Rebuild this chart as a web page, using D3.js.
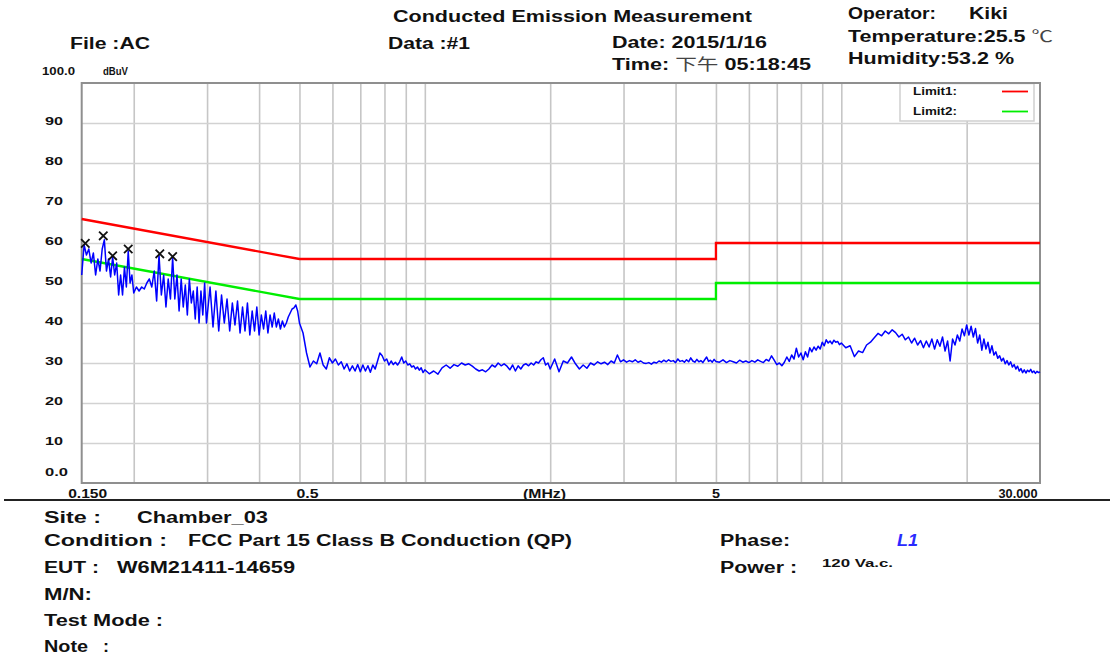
<!DOCTYPE html>
<html><head><meta charset="utf-8">
<script src="https://cdn.jsdelivr.net/npm/d3@7"></script>
<style>
html,body{margin:0;padding:0;background:#fff;}
svg{display:block;font-family:"Liberation Sans",Arial,sans-serif;}
</style></head><body>
<svg id="chart" width="1110" height="657"></svg>
<script>
// ---------- data ----------
const levelTicks = [0,10,20,30,40,50,60,70,80,90];
const levelTickLabels = ["0.0","10","20","30","40","50","60","70","80","90"];
const freqTicks = [0.15,0.5,5,30];
const freqTickLabels = ["0.150","0.5","5","30.000"];
const gridFreqs = [0.2,0.3,0.4,0.5,0.6,0.7,0.8,0.9,1,2,3,4,5,6,7,8,9,10,20];
const gridLevels = [10,20,30,40,50,60,70,80,90];
const limit1 = [[0.15,66],[0.5,56],[5,56],[5,60],[30,60]];
const limit2 = [[0.15,56],[0.5,46],[5,46],[5,50],[30,50]];
const legendNames = ["Limit1:","Limit2:"];
const markerFreq  = [0.153,0.169,0.178,0.194,0.231,0.248];
const markerLevel = [59.9,61.8,56.8,58.5,57.3,56.6];

const traceLow = [[0.150,52],[0.152,59.5],[0.154,57],[0.156,58.5],[0.158,55],[0.160,57.5],[0.162,52],[0.164,56],[0.166,53],[0.168,58.5],[0.170,60.8],[0.172,53],[0.174,56],[0.176,51.5],[0.178,56.5],[0.180,52],[0.182,55],[0.184,47],[0.186,52],[0.188,47],[0.190,54],[0.192,49],[0.194,58],[0.196,50],[0.198,52],[0.200,47.5],
[0.203,49],[0.206,48],[0.209,49],[0.212,48.5],[0.215,50],[0.218,51],[0.221,49],[0.224,53],[0.227,45.5],[0.230,57],[0.233,47],[0.236,52],[0.239,44],[0.242,51],[0.245,46],[0.248,56.3],[0.251,46],[0.254,52],[0.257,43],[0.260,51],[0.263,44],[0.266,49.5],[0.269,42],[0.272,51],[0.275,45],[0.278,48],[0.281,41],[0.284,49],[0.287,40],[0.290,48],[0.293,42],[0.296,50],[0.299,40],
[0.305,49],[0.310,39],[0.315,48],[0.320,38],[0.325,47],[0.330,40],[0.335,46],[0.340,38],[0.345,45],[0.350,39.5],[0.355,45.5],[0.360,37.5],[0.365,44],[0.370,38],[0.375,45],[0.380,37],[0.385,43],[0.390,38],[0.395,44],[0.400,37],[0.405,42],[0.410,38.5],[0.415,43],[0.420,37.5],[0.425,42],[0.430,39],[0.435,42.5],[0.440,39],[0.445,41],[0.450,38.5],[0.455,40.5],[0.460,39],[0.465,40],[0.470,41.5],[0.475,42.5],[0.480,43.5],[0.485,43.8],[0.490,44.5],[0.495,43],[0.500,40]];

const traceMid = [[0.51,37.5],[0.52,32.5],[0.53,29],[0.54,30.5],[0.55,29.8],[0.56,32.5],[0.57,29.5],[0.58,28.5],[0.59,31.3],[0.60,30],[0.61,31],[0.62,29.5],[0.63,30.3],[0.64,28.5],[0.65,29.8],[0.66,28],[0.67,29.3],[0.68,28],[0.69,29.6],[0.70,27.8],[0.71,29.5],[0.72,28],[0.73,29.3],[0.74,27.7],[0.75,29.5],[0.76,28.5],[0.77,30.5],[0.78,32.5],[0.79,31.8],[0.80,30.5],[0.81,31],[0.82,29.5],[0.83,30.5],[0.84,29.6],[0.85,30.2],[0.86,29.5],[0.87,30.3],[0.88,31.5],[0.89,30],[0.90,30.5],[0.91,29.5],[0.92,29.8],[0.93,29],[0.94,29.3],[0.95,28.5],[0.96,29],[0.97,28.2],[0.98,28.8],[0.99,27.6],[1.00,28.3],
[1.025,27.3],[1.05,28],[1.075,27.2],[1.10,28.8],[1.125,29.5],[1.15,28.7],[1.175,29.6],[1.20,29.2],[1.225,30],[1.25,29.5],[1.275,29.8],[1.30,29.2],[1.325,28.5],[1.35,28],[1.375,28.3],[1.40,27.8],[1.425,28.5],[1.45,29.5],[1.475,29],[1.50,30],[1.525,29.3],[1.55,29.8],[1.575,29.2],[1.60,28.3],[1.625,29.5],[1.65,28],[1.675,29.3],[1.70,28.5],[1.725,29.5],[1.75,29.8],[1.775,29.3],[1.80,30],[1.825,29.5],[1.85,30.3],[1.875,30],[1.90,30.8],[1.925,31.3],[1.95,29.5],[1.975,30],[2.00,28.5],
[2.05,31],[2.10,27.8],[2.15,30.5],[2.20,30],[2.25,31.5],[2.30,29.8],[2.35,28.5],[2.40,29.5],[2.45,28.7],[2.50,30],[2.55,29.5],[2.60,30.3],[2.65,29.8],[2.70,30.2],[2.75,29.6],[2.80,30.5],[2.85,30],[2.90,32],[2.95,30.3],[3.00,30.8],[3.05,30.2],[3.10,30.6],[3.15,30.3],[3.20,30.8],[3.25,30.2],[3.30,30.5],[3.35,30],[3.40,29.9],[3.45,30.1],[3.50,29.7],[3.55,30.2],[3.60,30],[3.65,30.5],[3.70,30.2],[3.75,30.7],[3.80,30.3],[3.85,30.8],[3.90,30.4],[3.95,30.6],[4.00,30.1],[4.05,31],[4.10,30.4],[4.15,30.6],[4.20,30.2],[4.25,30.8],[4.30,30.3],[4.35,31.3],[4.40,30.5],[4.45,30.2],[4.50,30.9],[4.55,30.3],[4.60,30.6],[4.65,30.1],[4.70,30.8],[4.75,31.5],[4.80,30.4],[4.85,30.7],[4.90,30.2],[4.95,30.9],[5.00,30.4]];

const traceHigh = [[5.1,30.2],[5.2,30.8],[5.3,30.1],[5.4,30.6],[5.5,30.3],[5.6,30],[5.7,30.7],[5.8,30.2],[5.9,30.5],[6.0,30.1],[6.1,30.6],[6.2,30.2],[6.3,30.8],[6.4,30.4],[6.5,30.1],[6.6,30.9],[6.7,30.5],[6.8,31.8],[6.9,30.7],[7.0,29.6],[7.1,30],[7.2,29.3],[7.3,30.2],[7.4,31.5],[7.5,30.4],[7.6,32],[7.7,31],[7.8,33.7],[7.9,31.5],[8.0,32.5],[8.1,30.8],[8.2,32.8],[8.3,31.5],[8.4,33.8],[8.5,32.8],[8.6,34],[8.7,33.2],[8.8,34.2],[8.9,33.5],[9.0,35.2],[9.1,34.3],[9.2,35.8],[9.3,35],[9.4,35.5],[9.5,34.8],[9.6,35.7],[9.7,35.2],[9.8,35.4],[9.9,34.6],[10.0,35],
[10.25,33.8],[10.5,34.3],[10.75,31.6],[11.0,33],[11.25,32.6],[11.5,34.5],[11.75,35.2],[12.0,36.3],[12.25,37.4],[12.5,36.8],[12.75,38],[13.0,37.3],[13.25,38.3],[13.5,37.6],[13.75,36.5],[14.0,37.2],[14.25,35.8],[14.5,36.5],[14.75,35],[15.0,36.2],[15.25,34.5],[15.5,35.6],[15.75,33.8],[16.0,35.5],[16.25,34],[16.5,36],[16.75,33.5],[17.0,35.8],[17.25,34.2],[17.5,36.5],[17.75,33],[18.0,35.5],[18.25,30.5],[18.5,36],[18.75,34.5],[19.0,37],[19.25,35.5],[19.5,38.5],[19.75,36.8],[20.0,39.5],[20.25,37],[20.5,39.2],[20.75,36.5],[21.0,38.6],[21.25,35],[21.5,37],[21.75,33.2],[22.0,36],[22.25,33.5],[22.5,35.2],[22.75,32.5],[23.0,34.3],[23.25,32],[23.5,32.8],[23.75,31.2],[24.0,31.8],[24.25,30.5],[24.5,31.2],[24.75,29.8],[25.0,30.6],[25.25,29.5],[25.5,30.3],[25.75,29],[26.0,29.6],[26.25,28.5],[26.5,29.2],[26.75,28],[27.0,28.6],[27.25,27.6],[27.5,28.3],[27.75,27.5],[28.0,28.2],[28.25,27.8],[28.5,28.4],[28.75,27.6],[29.0,28],[29.25,27.4],[29.5,27.9],[29.75,27.6],[30.0,27.8]];

// ---------- layout ----------
const svg = d3.select("#chart");
const L = 81.7, R = 1040, T = 83, B = 483;
const x = d3.scaleLog().domain([0.15,30]).range([L,R]);
const y = d3.scaleLinear().domain([0,100]).range([B,T]);

function label(px, py, str, o) {
  const t = svg.append("text").attr("x",px).attr("y",py)
    .attr("font-size",o.size).attr("font-weight",o.weight||"bold")
    .attr("fill",o.fill||"#111").text(str);
  if (o.w) t.attr("textLength",o.w).attr("lengthAdjust","spacingAndGlyphs");
  if (o.anchor) t.attr("text-anchor",o.anchor);
  if (o.italic) t.attr("font-style","italic");
  return t;
}

// grid
const gx = svg.append("g").attr("transform",`translate(0,${B})`)
  .call(d3.axisBottom(x).tickValues(gridFreqs).tickSize(-(B-T)).tickFormat(""));
gx.select(".domain").remove();
gx.selectAll("line").attr("stroke","#c6c6c6").attr("stroke-width",1.6);
const gy = svg.append("g").attr("transform",`translate(${L},0)`)
  .call(d3.axisLeft(y).tickValues(gridLevels).tickSize(-(R-L)).tickFormat(""));
gy.select(".domain").remove();
gy.selectAll("line").attr("stroke","#d2d2d2").attr("stroke-width",1.6);

// legend box (covers grid)
svg.append("rect").attr("x",900).attr("y",T+0.5).attr("width",134).attr("height",37.5)
  .attr("fill","#fff").attr("stroke","#cfcfcf").attr("stroke-width",1.5);

// plot border
svg.append("rect").attr("x",L).attr("y",T).attr("width",R-L).attr("height",B-T)
  .attr("fill","none").attr("stroke","#8f8f8f").attr("stroke-width",2);

// limits
const line = d3.line().x(d=>x(d[0])).y(d=>y(d[1]));
svg.append("path").datum(limit2).attr("d",line).attr("fill","none")
  .attr("stroke","#00ee00").attr("stroke-width",2.3);
svg.append("path").datum(limit1).attr("d",line).attr("fill","none")
  .attr("stroke","#ff0000").attr("stroke-width",2.3);

// trace
const trace = traceLow.concat(traceMid, traceHigh);
svg.append("path").datum(trace).attr("d",line).attr("fill","none")
  .attr("stroke","#0000ff").attr("stroke-width",1.5).attr("stroke-linejoin","round");

// markers
const sym = d3.symbol().type(d3.symbolTimes).size(48);
svg.append("g").selectAll("path").data(markerFreq).join("path")
  .attr("transform",(d,i)=>`translate(${x(d)},${y(markerLevel[i])})`)
  .attr("d",sym).attr("fill","none").attr("stroke","#111").attr("stroke-width",1.8);

// legend content
const legColors = ["#ff0000","#00ee00"];
legendNames.forEach((n,i)=>{
  label(913, 95 + i*20, n, {size:10, w:44});
  svg.append("line").attr("x1",1002).attr("x2",1028)
    .attr("y1",91.5+i*20).attr("y2",91.5+i*20)
    .attr("stroke",legColors[i]).attr("stroke-width",1.8);
});

// y tick labels
levelTicks.forEach((v,i)=>{
  const s = levelTickLabels[i];
  label(45, v===0 ? 475.5 : y(v)+2, s, {size:10.5, w: s.length===2 ? 18 : 23});
});
label(42, 75, "100.0", {size:10.5, w:33});
label(103, 75, "dBuV", {size:10, w:25});

// x tick labels
const xOff = [6, 8, 0, -22];
const xW = [39, 22, 8, 39];
freqTicks.forEach((f,i)=>{
  label(x(f)+xOff[i], 497.5, freqTickLabels[i], {size:12, w:xW[i], anchor:"middle"});
});
label(544.5, 497.5, "(MHz)", {size:12, w:43, anchor:"middle"});

// separator
svg.append("line").attr("x1",4).attr("x2",1110).attr("y1",500).attr("y2",500)
  .attr("stroke","#222").attr("stroke-width",2);

// header
label(393, 22, "Conducted Emission Measurement", {size:17, w:359});
label(70, 49, "File :AC", {size:16, w:80});
label(388, 49, "Data :#1", {size:16, w:82});
label(612, 48, "Date: 2015/1/16", {size:16, w:155});
const tt = svg.append("text").attr("x",612).attr("y",70).attr("font-size",16)
  .attr("font-weight","bold").attr("fill","#111")
  .attr("textLength",199).attr("lengthAdjust","spacingAndGlyphs");
tt.append("tspan").text("Time: ");
tt.append("tspan").attr("font-family","'Noto Sans CJK SC'").attr("font-weight","normal").attr("fill","#444").text("下午");
tt.append("tspan").text(" 05:18:45");
label(848, 19, "Operator:", {size:16, w:88});
label(969, 19, "Kiki", {size:16, w:39});
const tp = svg.append("text").attr("x",848).attr("y",42).attr("font-size",16)
  .attr("font-weight","bold").attr("fill","#111")
  .attr("textLength",205).attr("lengthAdjust","spacingAndGlyphs");
tp.append("tspan").text("Temperature:25.5 ");
tp.append("tspan").attr("font-family","'Noto Sans CJK SC'").attr("font-weight","normal").attr("fill","#444").text("℃");
label(848, 64, "Humidity:53.2 %", {size:16, w:166});

// footer
label(44, 523, "Site :", {size:16, w:57});
label(137, 523, "Chamber_03", {size:16, w:131});
label(44, 546, "Condition  :", {size:16, w:123});
label(188, 546, "FCC Part 15 Class B Conduction (QP)", {size:16, w:384});
label(720, 546, "Phase:", {size:16, w:70});
label(897, 546, "L1", {size:16, w:21, italic:true, fill:"#2a2aff"});
label(44, 573, "EUT :", {size:16, w:55});
label(117, 573, "W6M21411-14659", {size:16, w:178});
label(720, 573, "Power :", {size:16, w:77});
label(822, 567, "120 Va.c.", {size:11, w:71});
label(44, 600, "M/N:", {size:16, w:48});
label(44, 626, "Test Mode :", {size:16, w:119});
label(44, 652, "Note", {size:16, w:44});
label(103, 652, ":", {size:16, w:6});
</script>
</body></html>
